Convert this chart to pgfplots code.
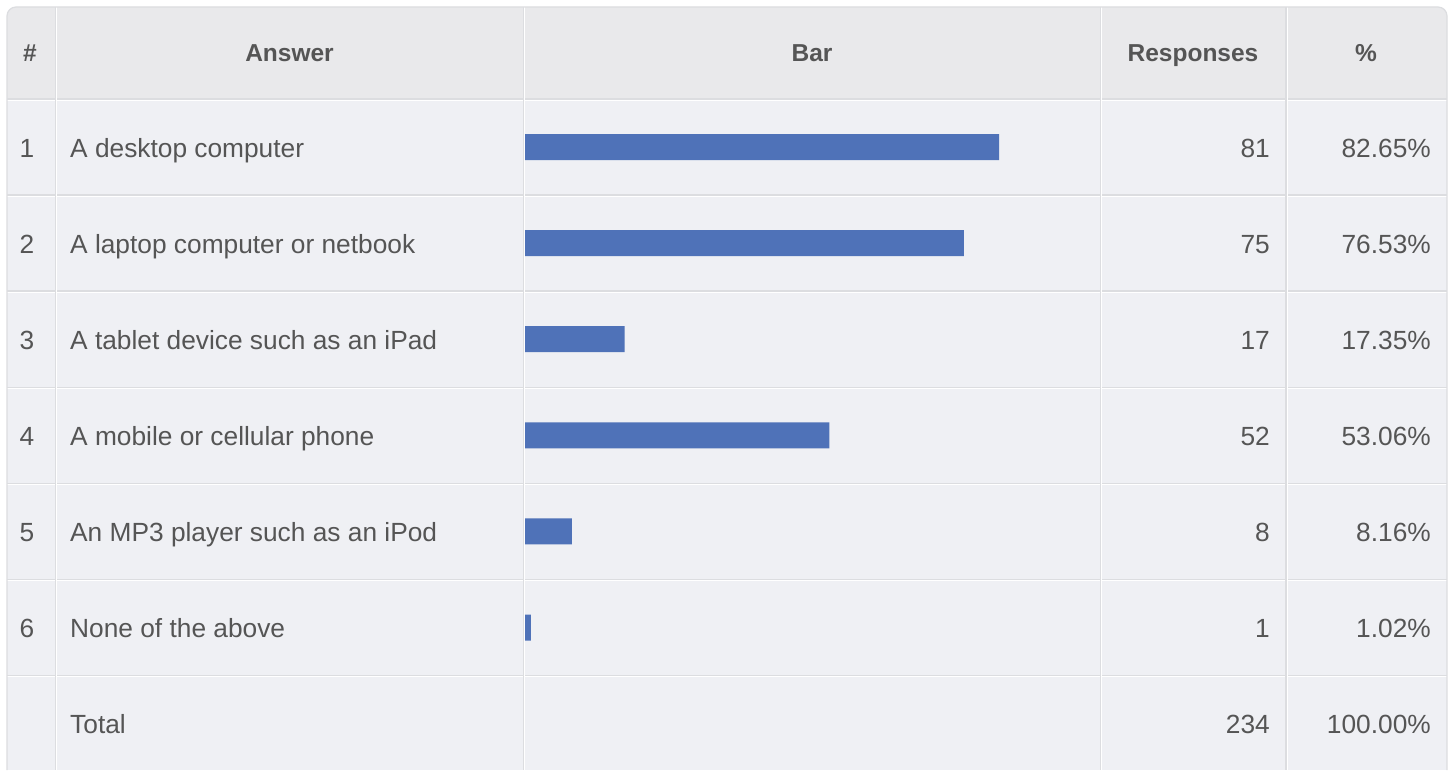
\documentclass[border=0pt]{standalone}
\usepackage{pgfplots}
\pgfplotsset{compat=1.18}
\usepackage{fontspec}
\setmainfont{Liberation Sans}
\definecolor{headbg}{HTML}{E9E9EB}
\definecolor{bodybg}{HTML}{EFF0F4}
\definecolor{gridc}{HTML}{DCDDE0}
\definecolor{txt}{HTML}{555555}
\definecolor{barblue}{HTML}{4F72B8}
\begin{document}
\begin{tikzpicture}
\begin{axis}[at={(0,0)},anchor=south west,scale only axis,width=1452pt,height=770pt,
  xmin=0,xmax=1452,ymin=0,ymax=770,y dir=reverse,hide axis,clip=false]
  \fill[white] (0,0) rectangle (1452,770);
  \fill[headbg,rounded corners=9pt] (7,7) rectangle (1447,140);
  \fill[bodybg] (7,99) rectangle (1447,770);
  % horizontal separators
  \pgfplotsinvokeforeach{99,195.1,291.2,387.3,483.4,579.5,675.6}{
    \draw[gridc,line width=1.5pt] (7,#1) -- (1447,#1);
    \draw[white,line width=1pt] (7,#1+1.3) -- (1447,#1+1.3);
  }
  % vertical separators
  \pgfplotsinvokeforeach{55.5,523.5,1100.5,1286}{
    \draw[gridc,line width=1.2pt] (#1,7) -- (#1,770);
    \draw[white,line width=1pt] (#1+1.2,7) -- (#1+1.2,770);
  }
  % outer border
  \draw[gridc,line width=1.2pt,rounded corners=9pt] (7,770) -- (7,7) -- (1447,7) -- (1447,770);
  % header
  \begin{scope}[every node/.style={inner sep=0pt,text=txt,font=\fontsize{24.5}{28}\selectfont\bfseries}]
    \node[anchor=base] at (axis cs:30,61.5) {\#};
    \node[anchor=base] at (axis cs:289.5,61.5) {Answer};
    \node[anchor=base] at (axis cs:812,61.5) {Bar};
    \node[anchor=base] at (axis cs:1193,61.5) {Responses};
    \node[anchor=base] at (axis cs:1366,61.5) {\%};
  \end{scope}
  \begin{scope}[every node/.style={inner sep=0pt,text=txt,font=\fontsize{26.3}{30}\selectfont}]
    \node[anchor=base] at (axis cs:27,157) {1};
    \node[anchor=base west] at (axis cs:70,157) {A desktop computer};
    \node[anchor=base east] at (axis cs:1270,157) {81};
    \node[anchor=base east] at (axis cs:1431,157) {82.65\%};
    \node[anchor=base] at (axis cs:27,253.3) {2};
    \node[anchor=base west] at (axis cs:70,253.3) {A laptop computer or netbook};
    \node[anchor=base east] at (axis cs:1270,253.3) {75};
    \node[anchor=base east] at (axis cs:1431,253.3) {76.53\%};
    \node[anchor=base] at (axis cs:27,349.4) {3};
    \node[anchor=base west] at (axis cs:70,349.4) {A tablet device such as an iPad};
    \node[anchor=base east] at (axis cs:1270,349.4) {17};
    \node[anchor=base east] at (axis cs:1431,349.4) {17.35\%};
    \node[anchor=base] at (axis cs:27,445.5) {4};
    \node[anchor=base west] at (axis cs:70,445.5) {A mobile or cellular phone};
    \node[anchor=base east] at (axis cs:1270,445.5) {52};
    \node[anchor=base east] at (axis cs:1431,445.5) {53.06\%};
    \node[anchor=base] at (axis cs:27,541.6) {5};
    \node[anchor=base west] at (axis cs:70,541.6) {An MP3 player such as an iPod};
    \node[anchor=base east] at (axis cs:1270,541.6) {8};
    \node[anchor=base east] at (axis cs:1431,541.6) {8.16\%};
    \node[anchor=base] at (axis cs:27,637.7) {6};
    \node[anchor=base west] at (axis cs:70,637.7) {None of the above};
    \node[anchor=base east] at (axis cs:1270,637.7) {1};
    \node[anchor=base east] at (axis cs:1431,637.7) {1.02\%};
    \node[anchor=base west] at (axis cs:70,733.8) {Total};
    \node[anchor=base east] at (axis cs:1270,733.8) {234};
    \node[anchor=base east] at (axis cs:1431,733.8) {100.00\%};
  \end{scope}
\end{axis}
\begin{axis}[at={(525pt,671pt)},anchor=north west,scale only axis,width=573.5pt,height=576.6pt,
  xmin=0,xmax=100,ymin=0.5,ymax=6.5,y dir=reverse,hide axis,clip=false,
  xbar,bar width=26pt]
  \addplot[fill=barblue,draw=none] coordinates {(82.65,1) (76.53,2) (17.35,3) (53.06,4) (8.16,5) (1.02,6)};
\end{axis}
\end{tikzpicture}
\end{document}
